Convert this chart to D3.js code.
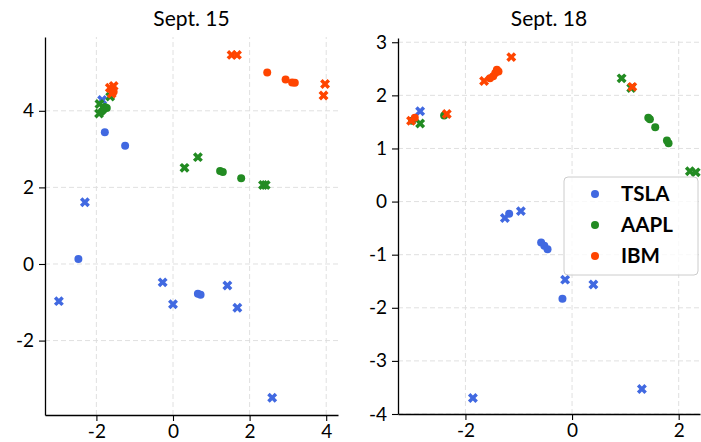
<!DOCTYPE html>
<html><head><meta charset="utf-8">
<script src="https://cdn.jsdelivr.net/npm/d3@7"></script>
<style>body{margin:0;background:#fff}svg{display:block}</style>
</head><body><div id="chart"></div>
<script>
// ---- data ----
const stocks = ["TSLA", "AAPL", "IBM"];
const colors = ["#4169E1", "#228B22", "#FF4500"];
const titles = ["Sept. 15", "Sept. 18"];

// Sept. 15  (circles = "o", crosses = "x")
const tsla15_o = [[-1.78,3.44],[-1.25,3.09],[-2.47,0.13],[0.65,-0.78],[0.72,-0.80]];
const tsla15_x = [[-1.85,4.28],[-2.30,1.61],[-2.98,-0.97],[-0.27,-0.48],[0.0,-1.05],[1.42,-0.56],[1.68,-1.14],[2.59,-3.49]];
const aapl15_o = [[-1.82,4.02],[-1.73,4.07],[-1.86,3.98],[-1.78,4.10],[1.23,2.43],[1.30,2.40],[1.78,2.24]];
const aapl15_x = [[-1.93,3.93],[-1.64,4.37],[-1.92,4.18],[0.30,2.51],[0.65,2.79],[2.35,2.06],[2.42,2.06]];
const ibm15_o = [[-1.60,4.55],[-1.55,4.50],[2.46,5.00],[2.94,4.82],[3.11,4.74],[3.18,4.73]];
const ibm15_x = [[-1.65,4.60],[-1.55,4.65],[-1.60,4.45],[1.53,5.46],[1.67,5.46],[3.97,4.70],[3.93,4.40]];

// Sept. 18
const tsla18_o = [[-1.18,-0.23],[-0.58,-0.77],[-0.52,-0.83],[-0.46,-0.90],[-0.18,-1.83]];
const tsla18_x = [[-2.85,1.70],[-1.26,-0.31],[-0.96,-0.18],[-0.13,-1.47],[0.40,-1.56],[-1.86,-3.70],[1.31,-3.53]];
const aapl18_o = [[-3.00,1.52],[-2.40,1.62],[1.43,1.58],[1.46,1.55],[1.56,1.40],[1.78,1.15],[1.81,1.10]];
const aapl18_x = [[-2.85,1.47],[0.93,2.32],[1.11,2.14],[2.21,0.57],[2.32,0.55]];
const ibm18_o = [[-2.95,1.58],[-1.41,2.48],[-1.44,2.42],[-1.48,2.36],[-1.54,2.32],[-1.38,2.45]];
const ibm18_x = [[-3.02,1.52],[-2.35,1.65],[-1.65,2.27],[-1.14,2.72],[1.13,2.16]];

const xTicks15 = [-2, 0, 2, 4], yTicks15 = [-2, 0, 2, 4];
const xTicks18 = [-2, 0, 2], yTicks18 = [-4, -3, -2, -1, 0, 1, 2, 3];

const panels = [
  { title: titles[0], series: [[tsla15_o, tsla15_x],[aapl15_o, aapl15_x],[ibm15_o, ibm15_x]],
    xd: [-3.342, 4.308], yd: [-3.943, 5.927], xr: [45, 338], yr: [415, 37], xt: xTicks15, yt: yTicks15 },
  { title: titles[1], series: [[tsla18_o, tsla18_x],[aapl18_o, aapl18_x],[ibm18_o, ibm18_x]],
    xd: [-3.265, 2.40], yd: [-4.0, 3.08], xr: [398, 700], yr: [414, 38], xt: xTicks18, yt: yTicks18, legend: true }
];

const W = 701, H = 442;
const FONT = "Lato, 'DejaVu Sans', sans-serif";
const svg = d3.select("#chart").append("svg").attr("width", W).attr("height", H)
  .style("font-family", FONT);

const fmt = d => String(d).replace("\u2212", "-");
const crossPath = d3.symbol().type(d3.symbolCross).size(62)();

panels.forEach(p => {
  const x = d3.scaleLinear().domain(p.xd).range(p.xr);
  const y = d3.scaleLinear().domain(p.yd).range(p.yr);
  const g = svg.append("g");

  // grid
  g.append("g").selectAll("line.vg").data(p.xt).join("line")
    .attr("x1", d => x(d)).attr("x2", d => x(d)).attr("y1", p.yr[0]).attr("y2", p.yr[1])
    .attr("stroke", "#dcdcdc").attr("stroke-width", 0.9).attr("stroke-dasharray", "5,3");
  g.append("g").selectAll("line.hg").data(p.yt).join("line")
    .attr("y1", d => y(d)).attr("y2", d => y(d)).attr("x1", p.xr[0]).attr("x2", p.xr[1])
    .attr("stroke", "#dcdcdc").attr("stroke-width", 0.9).attr("stroke-dasharray", "5,3");

  // axes
  const xa = g.append("g").attr("transform", `translate(0,${p.yr[0]})`)
    .call(d3.axisBottom(x).tickValues(p.xt).tickFormat(fmt).tickSizeInner(6).tickSizeOuter(0).tickPadding(4));
  const ya = g.append("g").attr("transform", `translate(${p.xr[0]},0)`)
    .call(d3.axisLeft(y).tickValues(p.yt).tickFormat(fmt).tickSizeInner(6).tickSizeOuter(0).tickPadding(5));
  [xa, ya].forEach(a => {
    a.select(".domain").attr("stroke", "#000").attr("stroke-width", 1.3);
    a.selectAll(".tick line").attr("stroke", "#000").attr("stroke-width", 1.1);
    a.selectAll(".tick text").attr("fill", "#000").style("font-size", "19px").style("font-family", FONT);
  });

  // title
  g.append("text").attr("x", (p.xr[0] + p.xr[1]) / 2).attr("y", 26)
    .attr("text-anchor", "middle").style("font-size", "21px").attr("fill", "#000").text(p.title);

  // points
  p.series.forEach((s, i) => {
    const [circ, crs] = s;
    g.append("g").selectAll("circle").data(circ).join("circle")
      .attr("cx", d => x(d[0])).attr("cy", d => y(d[1])).attr("r", 4).attr("fill", colors[i]);
    g.append("g").selectAll("path").data(crs).join("path")
      .attr("d", crossPath)
      .attr("transform", d => `translate(${x(d[0])},${y(d[1])}) rotate(45)`)
      .attr("fill", colors[i]);
  });

  if (p.legend) {
    const lg = svg.append("g").attr("transform", "translate(564,177)");
    lg.append("rect").attr("width", 134).attr("height", 98).attr("rx", 4)
      .attr("fill", "#fff").attr("fill-opacity", 0.8).attr("stroke", "#cccccc").attr("stroke-width", 1);
    stocks.forEach((name, i) => {
      const cy = 17 + i * 31;
      lg.append("circle").attr("cx", 31).attr("cy", cy).attr("r", 4).attr("fill", colors[i]);
      lg.append("text").attr("x", 57).attr("y", cy).attr("dy", "0.36em")
        .style("font-size", "20.5px").style("font-weight", "bold").attr("fill", "#000").text(name);
    });
  }
});
</script></body></html>
